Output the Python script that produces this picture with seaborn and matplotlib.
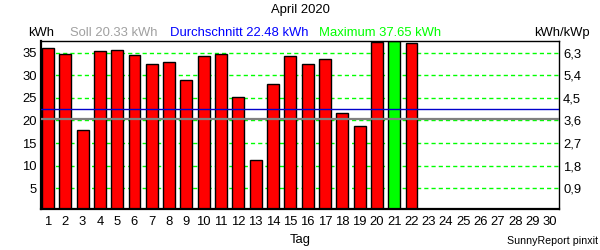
import matplotlib
matplotlib.use("Agg")
import matplotlib.pyplot as plt
import seaborn as sns
import pandas as pd

days = [str(d) for d in range(1, 31)]
values = [35.97, 34.6, 17.8, 35.3, 35.5, 34.4, 32.6, 32.9, 28.9, 34.2, 34.6,
          25.1, 11.2, 28.0, 34.2, 32.4, 33.5, 21.6, 18.7, 37.3, 37.65, 37.1]
soll = 20.33
durchschnitt = 22.48
maximum = 37.65
left_ticks = [5, 10, 15, 20, 25, 30, 35]
right_labels = ["0,9", "1,8", "2,7", "3,6", "4,5", "5,4", "6,3"]

sns.set_theme(style="white")
plt.rcParams['font.family'] = ['Liberation Sans', 'DejaVu Sans']

df = pd.DataFrame({"Tag": days[:len(values)], "kWh": values})
palette = {d: ("#00FF00" if v == max(values) else "#FF0000") for d, v in zip(df["Tag"], df["kWh"])}

FS = 9.4

fig = plt.figure(figsize=(6, 2.5), dpi=100)
ax = fig.add_axes([41/600, 1-209.3/250, (559-41)/600, (209.3-40.7)/250])

sns.barplot(data=df, x="Tag", y="kWh", hue="Tag", order=days, palette=palette,
            legend=False, width=0.69, edgecolor="black", linewidth=1.0,
            saturation=1, ax=ax, zorder=2)

for t in left_ticks:
    ax.axhline(t, color="#00FF00", ls=(0, (3, 2.2)), lw=1, zorder=1)
ax.axhline(soll, color="#808080", lw=1.6, zorder=4)
ax.axhline(durchschnitt, color="#0000CC", lw=1, zorder=4)

ax.set_xlim(-0.4, 29.52)
ax.set_ylim(0.35, maximum)
ax.set_yticks(left_ticks)
ax.set_yticklabels([str(t) for t in left_ticks])
ax.set_xlabel("")
ax.set_ylabel("")
ax.tick_params(axis="x", length=0, pad=5, labelsize=FS, colors="black")
ax.tick_params(axis="y", length=0, pad=3, labelsize=FS, colors="black")
for s in ["left", "bottom"]:
    ax.spines[s].set_linewidth(1.6)
for s in ["top", "right"]:
    ax.spines[s].set_linewidth(1.0)
for s in ax.spines.values():
    s.set_color("black")
    s.set_visible(True)

ax2 = ax.twinx()
ax2.set_ylim(ax.get_ylim())
ax2.set_yticks(left_ticks)
ax2.set_yticklabels(right_labels)
ax2.tick_params(axis="y", length=0, pad=3, labelsize=FS, colors="black")
ax2.grid(False)
for s in ax2.spines.values():
    s.set_visible(False)

fig.text(0.5, 1-10/250, "April 2020", ha="center", va="center", fontsize=FS, color="black")
ytop = 1-33/250
fig.text(28/600, ytop, "kWh", ha="left", va="center", fontsize=FS, color="black")
fig.text(70/600, ytop, f"Soll {soll:.2f} kWh", ha="left", va="center", fontsize=FS, color="#A0A0A0")
fig.text(170/600, ytop, f"Durchschnitt {durchschnitt:.2f} kWh", ha="left", va="center", fontsize=FS, color="#0000FF")
fig.text(319/600, ytop, f"Maximum {maximum:.2f} kWh", ha="left", va="center", fontsize=FS, color="#00FF00")
fig.text(590/600, ytop, "kWh/kWp", ha="right", va="center", fontsize=FS, color="black")
fig.text(300/600, 1-240/250, "Tag", ha="center", va="center", fontsize=FS, color="black")
fig.text(598/600, 1-241/250, "SunnyReport pinxit", ha="right", va="center", fontsize=7.7, color="black")

fig.savefig("out.png", dpi=100, facecolor="white")
